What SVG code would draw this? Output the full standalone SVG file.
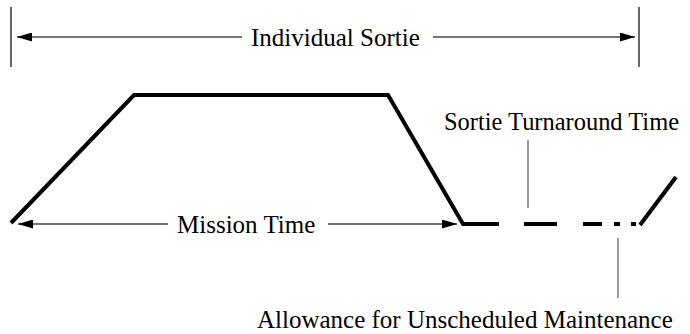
<svg xmlns="http://www.w3.org/2000/svg" width="690" height="334" viewBox="0 0 690 334">
<style>
.lbl{font-family:'Liberation Serif','Times New Roman',serif;font-size:25px;fill:#000}
.dim{stroke:#444;stroke-width:1.3;fill:none}
.tick{stroke:#000;stroke-width:1.2}
.lead{stroke:#777;stroke-width:1.5}
.profile{stroke:#000;stroke-width:4;fill:none;stroke-linejoin:miter}
</style>
<defs>
<marker id="ah" viewBox="0 0 15 9" refX="15" refY="4.5" markerWidth="15" markerHeight="9" markerUnits="userSpaceOnUse" orient="auto">
<path d="M0,0 L15,4.5 L0,9 z" fill="#000"/>
</marker>
</defs>
<g id="connectors">
<line class="tick" x1="11" y1="7" x2="11" y2="67"/>
<line class="tick" x1="639" y1="7" x2="639" y2="67"/>
<line class="dim" x1="242" y1="37" x2="17" y2="37" marker-end="url(#ah)"/>
<line class="dim" x1="433" y1="37" x2="635" y2="37" marker-end="url(#ah)"/>
<line class="dim" x1="168" y1="224" x2="18" y2="224" marker-end="url(#ah)"/>
<line class="dim" x1="328" y1="224" x2="457" y2="224" marker-end="url(#ah)"/>
<line class="lead" x1="528" y1="140" x2="528" y2="208"/>
<line class="lead" x1="618" y1="238" x2="618" y2="298"/>
</g>
<g id="profile">
<polyline class="profile" points="11,223 134,95 388,95 463,224 499,224"/>
<line class="profile" x1="524" y1="224" x2="557" y2="224"/>
<line class="profile" x1="583" y1="224" x2="602" y2="224"/>
<line class="profile" x1="614" y1="224" x2="620" y2="224"/>
<line class="profile" x1="631" y1="224" x2="636" y2="224"/>
<line class="profile" x1="640" y1="225" x2="676" y2="177"/>
</g>
<g id="individual-sortie"><text class="lbl" font-family="'Liberation Serif', serif" x="251" y="46">Individual Sortie</text></g>
<g id="mission-time"><text class="lbl" font-family="'Liberation Serif', serif" x="177" y="233">Mission Time</text></g>
<g id="sortie-turnaround"><text class="lbl" font-family="'Liberation Serif', serif" x="444" y="130" textLength="235" lengthAdjust="spacingAndGlyphs">Sortie Turnaround Time</text></g>
<g id="allowance"><text class="lbl" font-family="'Liberation Serif', serif" x="257" y="328">Allowance for Unscheduled Maintenance</text></g>
</svg>
